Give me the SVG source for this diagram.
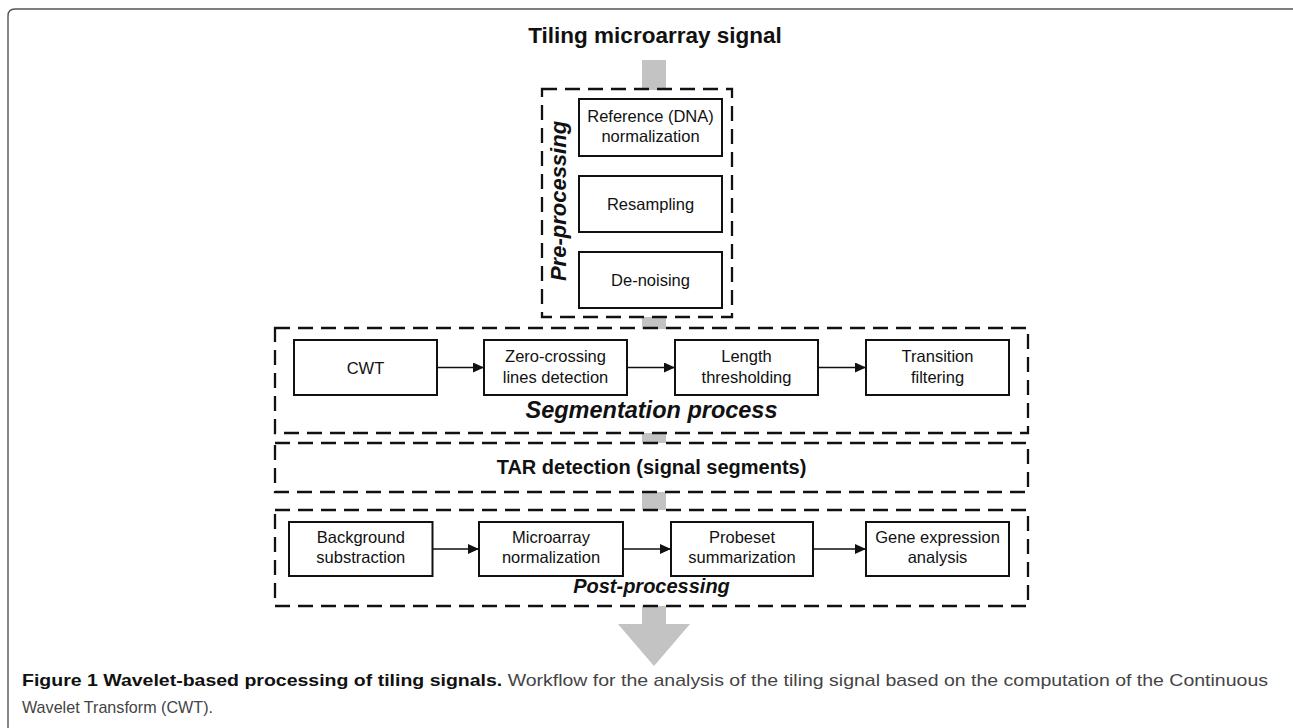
<svg xmlns="http://www.w3.org/2000/svg" width="1293" height="728" viewBox="0 0 1293 728">
<style>
  .frame{fill:none;stroke:#555;stroke-width:1.4}
  .dash{fill:none;stroke:#111;stroke-width:2.3;stroke-dasharray:15 8}
  .box{fill:#fff;stroke:#111;stroke-width:2}
  .gray{fill:#c3c3c3;stroke:none}
  .lbl{font-family:"Liberation Sans",Arial,sans-serif;font-size:16.5px;fill:#111;text-anchor:middle}
  .ttl{font-family:"Liberation Sans",Arial,sans-serif;font-weight:bold;fill:#111;text-anchor:middle}
  .grp{font-family:"Liberation Sans",Arial,sans-serif;font-weight:bold;font-style:italic;fill:#111;text-anchor:middle}
  .conn{stroke:#111;stroke-width:1.6;fill:none}
  .cap{font-family:"Liberation Sans",Arial,sans-serif;font-size:17px;fill:#444}
</style>
<defs>
  <marker id="ah" markerUnits="userSpaceOnUse" markerWidth="11" markerHeight="10" refX="11" refY="5" orient="auto">
    <path d="M0,0 L11,5 L0,10 z" fill="#111"/>
  </marker>
</defs>
<rect width="1293" height="728" fill="#fff"/>
<path class="frame" d="M8,728 L8,16 Q8,9 15,9 L1293,9"/>

<g id="flow-arrows">
  <rect class="gray" x="642" y="60" width="24" height="30"/>
  <rect class="gray" x="642" y="317" width="24" height="12"/>
  <rect class="gray" x="642" y="433" width="24" height="10"/>
  <rect class="gray" x="642" y="492" width="24" height="18"/>
  <path class="gray" d="M642,606 L666,606 L666,624 L690,624 L654,666 L618,624 L642,624 z"/>
</g>

<text id="title" class="ttl" x="655" y="43" font-size="22.5">Tiling microarray signal</text>

<g id="preprocessing">
  <rect class="dash" x="542" y="89" width="190" height="228"/>
  <text class="grp" font-size="22" transform="translate(566,201) rotate(-90)">Pre-processing</text>
  <g id="ref-norm">
    <rect class="box" x="579" y="99" width="143" height="57"/>
    <text class="lbl" x="650.5" y="122">Reference (DNA)</text>
    <text class="lbl" x="650.5" y="142">normalization</text>
  </g>
  <g id="resampling">
    <rect class="box" x="579" y="176" width="143" height="56"/>
    <text class="lbl" x="650.5" y="210">Resampling</text>
  </g>
  <g id="denoising">
    <rect class="box" x="579" y="252" width="143" height="56"/>
    <text class="lbl" x="650.5" y="286">De-noising</text>
  </g>
</g>

<g id="segmentation">
  <rect class="dash" x="275" y="328" width="753" height="105"/>
  <text class="grp" x="651.5" y="418" font-size="23.5">Segmentation process</text>
  <g id="cwt">
    <rect class="box" x="294" y="340" width="143" height="55"/>
    <text class="lbl" x="365.5" y="373.5">CWT</text>
  </g>
  <g id="zero-crossing">
    <rect class="box" x="484" y="340" width="143" height="55"/>
    <text class="lbl" x="555.5" y="362">Zero-crossing</text>
    <text class="lbl" x="555.5" y="383">lines detection</text>
  </g>
  <g id="length-thr">
    <rect class="box" x="675" y="340" width="143" height="55"/>
    <text class="lbl" x="746.5" y="362">Length</text>
    <text class="lbl" x="746.5" y="383">thresholding</text>
  </g>
  <g id="transition">
    <rect class="box" x="866" y="340" width="143" height="55"/>
    <text class="lbl" x="937.5" y="362">Transition</text>
    <text class="lbl" x="937.5" y="383">filtering</text>
  </g>
</g>

<g id="tar">
  <rect class="dash" x="275" y="443" width="753" height="49"/>
  <text class="ttl" x="651.5" y="474" font-size="20">TAR detection (signal segments)</text>
</g>

<g id="postprocessing">
  <rect class="dash" x="275" y="510" width="753" height="96"/>
  <text class="grp" x="651.5" y="593" font-size="20">Post-processing</text>
  <g id="background">
    <rect class="box" x="289" y="522" width="143.5" height="54"/>
    <text class="lbl" x="360.8" y="543">Background</text>
    <text class="lbl" x="360.8" y="563">substraction</text>
  </g>
  <g id="micro-norm">
    <rect class="box" x="479" y="522" width="144" height="54"/>
    <text class="lbl" x="551" y="543">Microarray</text>
    <text class="lbl" x="551" y="563">normalization</text>
  </g>
  <g id="probeset">
    <rect class="box" x="671" y="522" width="142" height="54"/>
    <text class="lbl" x="742" y="543">Probeset</text>
    <text class="lbl" x="742" y="563">summarization</text>
  </g>
  <g id="gene-expr">
    <rect class="box" x="866" y="522" width="143" height="54"/>
    <text class="lbl" x="937.5" y="543">Gene expression</text>
    <text class="lbl" x="937.5" y="563">analysis</text>
  </g>
</g>

<g id="connectors">
  <line class="conn" x1="437" y1="367.5" x2="484" y2="367.5" marker-end="url(#ah)"/>
  <line class="conn" x1="627" y1="367.5" x2="675" y2="367.5" marker-end="url(#ah)"/>
  <line class="conn" x1="818" y1="367.5" x2="866" y2="367.5" marker-end="url(#ah)"/>
  <line class="conn" x1="432.5" y1="549" x2="479" y2="549" marker-end="url(#ah)"/>
  <line class="conn" x1="623" y1="549" x2="671" y2="549" marker-end="url(#ah)"/>
  <line class="conn" x1="813" y1="549" x2="866" y2="549" marker-end="url(#ah)"/>
</g>

<g id="caption">
  <text class="cap" x="22" y="686" textLength="1246" lengthAdjust="spacingAndGlyphs"><tspan font-weight="bold" fill="#111">Figure 1 Wavelet-based processing of tiling signals.</tspan> Workflow for the analysis of the tiling signal based on the computation of the Continuous</text>
  <text class="cap" x="22" y="713" textLength="191" lengthAdjust="spacingAndGlyphs">Wavelet Transform (CWT).</text>
</g>
</svg>
